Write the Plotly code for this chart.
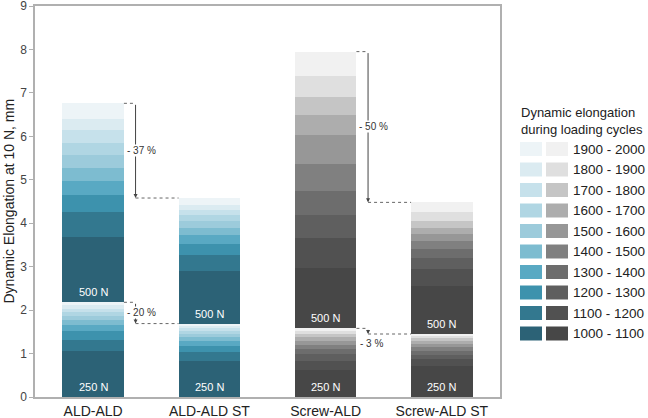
import plotly.graph_objects as go

# ---------------- data ----------------
categories = ["ALD-ALD", "ALD-ALD ST", "Screw-ALD", "Screw-ALD ST"]
cycle_ranges = ["1000 - 1100", "1100 - 1200", "1200 - 1300", "1300 - 1400", "1400 - 1500",
                "1500 - 1600", "1600 - 1700", "1700 - 1800", "1800 - 1900", "1900 - 2000"]
load_labels = ["250 N", "500 N"]

# dynamic elongation increments (mm) per 100-cycle block, 1000-1100 ... 1900-2000
ald_250 = [1.05, 0.27, 0.19, 0.15, 0.12, 0.09, 0.08, 0.08, 0.08, 0.07]
ald_500 = [1.51, 0.56, 0.40, 0.32, 0.31, 0.28, 0.29, 0.30, 0.25, 0.36]
aldst_250 = [0.83, 0.20, 0.14, 0.12, 0.09, 0.08, 0.07, 0.06, 0.05, 0.05]
aldst_500 = [1.20, 0.37, 0.27, 0.20, 0.17, 0.15, 0.14, 0.12, 0.12, 0.15]
screw_250 = [0.63, 0.21, 0.14, 0.12, 0.10, 0.09, 0.08, 0.07, 0.07, 0.07]
screw_500 = [1.38, 0.69, 0.54, 0.56, 0.62, 0.67, 0.46, 0.40, 0.49, 0.56]
screwst_250 = [0.71, 0.16, 0.09, 0.10, 0.08, 0.08, 0.07, 0.06, 0.05, 0.05]
screwst_500 = [1.10, 0.40, 0.26, 0.20, 0.19, 0.15, 0.15, 0.14, 0.21, 0.23]

reduction_250 = ["- 20 %", "- 3 %"]
reduction_500 = ["- 37 %", "- 50 %"]

# ---------------- styles ----------------
teal = ["#2c6276", "#33788f", "#3d92ad", "#59a9c3", "#7dbcd0",
        "#9ccbdb", "#b0d6e3", "#c6e1eb", "#dbebf1", "#edf4f7"]
gray = ["#474747", "#515151", "#5f5f5f", "#6d6d6d", "#808080",
        "#979797", "#adadad", "#c5c5c5", "#dfdfdf", "#f1f1f1"]
FONT = "Arial, Liberation Sans, sans-serif"
BAR_W = 0.53

blocks_250 = [ald_250, aldst_250, screw_250, screwst_250]
blocks_500 = [ald_500, aldst_500, screw_500, screwst_500]
palettes = [teal, teal, gray, gray]

fig = go.Figure()
for blocks in (blocks_250, blocks_500):
    for k in range(len(cycle_ranges)):
        fig.add_trace(go.Bar(
            x=categories,
            y=[b[k] for b in blocks],
            marker=dict(color=[p[k] for p in palettes], line=dict(width=0)),
            width=BAR_W,
            name=cycle_ranges[k],
            showlegend=False,
        ))

top_250 = [sum(b) for b in blocks_250]
top_500 = [top_250[i] + sum(blocks_500[i]) for i in range(4)]

shapes = []
annotations = []

# load labels inside bars
for i in range(4):
    for base, lab in ((0, load_labels[0]), (top_250[i], load_labels[1])):
        annotations.append(dict(x=i, y=base, xref="x", yref="y", text=lab,
                                showarrow=False, yanchor="bottom", yshift=2,
                                font=dict(family=FONT, size=11, color="white")))

# reduction brackets
for pair_idx, (i, j) in enumerate([(0, 1), (2, 3)]):
    for tops, labels, below in ((top_500, reduction_500, False), (top_250, reduction_250, True)):
        y1, y2 = tops[i], tops[j]
        xr = i + BAR_W / 2
        xv = xr + 0.1
        xl = j - BAR_W / 2
        shapes.append(dict(type="line", xref="x", yref="y", x0=xr, x1=xv, y0=y1, y1=y1,
                           line=dict(color="#666666", width=1, dash="dot")))
        shapes.append(dict(type="line", xref="x", yref="y", x0=xv, x1=xl, y0=y2, y1=y2,
                           line=dict(color="#666666", width=1, dash="dot")))
        annotations.append(dict(x=xv, y=y2, ax=xv, ay=y1, xref="x", yref="y",
                                axref="x", ayref="y", text="", showarrow=True,
                                arrowhead=2, arrowsize=0.8, arrowwidth=1,
                                arrowcolor="#444444", standoff=0))
        lab = labels[pair_idx]
        if below and (y1 - y2) < 0.3:
            annotations.append(dict(x=xv, y=y2, xref="x", yref="y", text=lab,
                                    showarrow=False, xanchor="left", xshift=-10,
                                    yanchor="top", yshift=-2,
                                    font=dict(family=FONT, size=10, color="#333333")))
        else:
            annotations.append(dict(x=xv, y=(y1 + y2) / 2, xref="x", yref="y", text=lab,
                                    showarrow=False, xanchor="left", xshift=-10,
                                    bgcolor="white", borderpad=0,
                                    font=dict(family=FONT, size=10, color="#333333")))

# y-axis title
annotations.append(dict(x=0, y=0.5, xref="paper", yref="paper", xshift=-27,
                        text="Dynamic Elongation at 10 N, mm", textangle=-90,
                        showarrow=False, xanchor="center", yanchor="middle",
                        font=dict(family=FONT, size=14, color="#222222")))

# custom legend (two swatches per row)
PL, PT, PW, PH = 35, 6, 465, 391


def px_x(px):
    return (px - PL) / PW


def px_y(py):
    return (PT + PH - py) / PH


annotations.append(dict(x=px_x(519), y=px_y(103), xref="paper", yref="paper",
                        text="Dynamic elongation<br>during loading cycles",
                        showarrow=False, xanchor="left", yanchor="top", align="left",
                        font=dict(family=FONT, size=13, color="#222222")))
n = len(cycle_ranges)
for r in range(n):
    k = n - 1 - r
    cy = 149 + r * 20.5
    shapes.append(dict(type="rect", xref="paper", yref="paper",
                       x0=px_x(520), x1=px_x(542), y0=px_y(cy - 7), y1=px_y(cy + 7),
                       fillcolor=teal[k], line=dict(width=0)))
    shapes.append(dict(type="rect", xref="paper", yref="paper",
                       x0=px_x(546), x1=px_x(568), y0=px_y(cy - 7), y1=px_y(cy + 7),
                       fillcolor=gray[k], line=dict(width=0)))
    annotations.append(dict(x=px_x(571), y=px_y(cy), xref="paper", yref="paper",
                            text=cycle_ranges[k], showarrow=False,
                            xanchor="left", yanchor="middle",
                            font=dict(family=FONT, size=13.5, color="#222222")))

fig.update_layout(
    barmode="stack",
    width=648, height=418,
    margin=dict(l=PL, r=648 - PL - PW, t=PT, b=418 - PT - PH, autoexpand=False),
    paper_bgcolor="white", plot_bgcolor="white",
    font=dict(family=FONT),
    shapes=shapes,
    annotations=annotations,
    showlegend=False,
)
fig.update_xaxes(
    type="category", range=[-0.5, 3.5], showgrid=False, zeroline=False,
    showline=True, linecolor="#b0b0b0", linewidth=1.5, mirror=True,
    ticks="", automargin=False,
    tickfont=dict(family=FONT, size=14, color="#222222"),
)
fig.update_yaxes(
    range=[0, 9], dtick=1, showgrid=False, zeroline=False,
    showline=True, linecolor="#b0b0b0", linewidth=1.5, mirror=True,
    ticks="outside", ticklen=4, tickcolor="#b0b0b0", automargin=False,
    ticklabeloverflow="allow",
    tickfont=dict(family=FONT, size=12, color="#444444"),
)

fig.write_html(
    "out.html",
    config={"displayModeBar": False},
    post_script="document.body.style.margin='0';document.body.style.overflow='hidden';",
)
